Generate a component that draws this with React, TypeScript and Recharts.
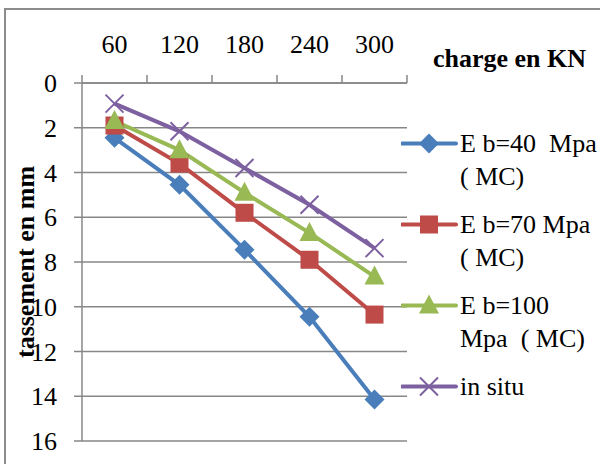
import React from 'react';
import { LineChart, Line, XAxis, YAxis, CartesianGrid, Legend, Label } from 'recharts';

const charges = [60, 120, 180, 240, 300];
const eb40 = [2.45, 4.55, 7.45, 10.45, 14.15];
const eb70 = [1.9, 3.6, 5.8, 7.9, 10.35];
const eb100 = [1.7, 3.0, 4.9, 6.7, 8.65];
const inSitu = [0.92, 2.16, 3.8, 5.44, 7.38];

const xBoundaries = [30, 90, 150, 210, 270, 330];
const xTicks = [30, 60, 90, 120, 150, 180, 210, 240, 270, 300, 330];
const yTicks = [0, 2, 4, 6, 8, 10, 12, 14, 16];

const seriesKeys = ['eb40', 'eb70', 'eb100', 'inSitu'];

const seriesNames = {
  eb40: 'E b=40  Mpa\n( MC)',
  eb70: 'E b=70 Mpa\n( MC)',
  eb100: 'E b=100\nMpa  ( MC)',
  inSitu: 'in situ',
};

const colors = {
  eb40: '#4A7EBB',
  eb70: '#BE4B48',
  eb100: '#98B954',
  inSitu: '#7D60A0',
};

const shapes = {
  eb40: 'diamond',
  eb70: 'square',
  eb100: 'triangle',
  inSitu: 'cross',
};

const data = charges.map((c, i) => ({
  charge: c,
  eb40: eb40[i],
  eb70: eb70[i],
  eb100: eb100[i],
  inSitu: inSitu[i],
}));

const FONT = "'Liberation Serif', 'Times New Roman', serif";
const GRID = '#878787';

function Marker({ kind, cx, cy, color }: { kind: string; cx: number; cy: number; color: string }) {
  if (kind === 'diamond') {
    const r = 10;
    return <polygon points={`${cx},${cy - r} ${cx + r},${cy} ${cx},${cy + r} ${cx - r},${cy}`} fill={color} />;
  }
  if (kind === 'square') {
    const s = 9;
    return <rect x={cx - s} y={cy - s} width={2 * s} height={2 * s} fill={color} />;
  }
  if (kind === 'triangle') {
    return <polygon points={`${cx},${cy - 11} ${cx + 10},${cy + 8} ${cx - 10},${cy + 8}`} fill={color} />;
  }
  const a = 9;
  return (
    <g stroke={color} strokeWidth={2}>
      <line x1={cx - a} y1={cy - a} x2={cx + a} y2={cy + a} />
      <line x1={cx - a} y1={cy + a} x2={cx + a} y2={cy - a} />
    </g>
  );
}

const makeDot = (key: string) => (props: any) => {
  const { cx, cy, index } = props;
  if (cx == null || cy == null) return <g key={`d-${key}-${index}`} />;
  return (
    <g key={`d-${key}-${index}`}>
      <Marker kind={shapes[key]} cx={cx} cy={cy} color={colors[key]} />
    </g>
  );
};

const XTick = (props: any) => {
  const { x, y, payload } = props;
  const v = payload.value;
  if (xBoundaries.includes(v)) {
    return <line x1={x} y1={y} x2={x} y2={y + 8} stroke={GRID} strokeWidth={1.5} />;
  }
  return (
    <text x={x} y={y - 22} textAnchor="middle" style={{ fontFamily: FONT }} fontSize={26} fill="#000">
      {v}
    </text>
  );
};

const YTick = (props: any) => {
  const { x, y, payload } = props;
  return (
    <text x={x} y={y + 9} textAnchor="end" style={{ fontFamily: FONT }} fontSize={26} fill="#000">
      {payload.value}
    </text>
  );
};

const LegendContent = (props: any) => {
  const { payload } = props;
  const items = seriesKeys
    .map((k) => (payload || []).find((e: any) => e.dataKey === k))
    .filter(Boolean);
  return (
    <div style={{ fontFamily: FONT, fontSize: 26, lineHeight: '33px', color: '#000' }}>
      {items.map((e: any) => {
        const key = e.dataKey as string;
        return (
          <div key={key} style={{ display: 'flex', alignItems: 'flex-start', marginBottom: 15 }}>
            <svg width={59} height={33} style={{ flex: 'none' }}>
              <line x1={1} y1={16.5} x2={55} y2={16.5} stroke={colors[key]} strokeWidth={4} strokeLinecap="round" />
              <Marker kind={shapes[key]} cx={28} cy={16.5} color={colors[key]} />
            </svg>
            <div style={{ whiteSpace: 'pre' }}>{e.value}</div>
          </div>
        );
      })}
    </div>
  );
};

export default function App() {
  return (
    <div style={{ position: 'absolute', left: 0, top: 0, width: 600, height: 464, overflow: 'hidden', background: '#fff' }}>
      <div
        style={{
          position: 'absolute',
          left: 4,
          top: 8,
          width: 700,
          height: 600,
          border: '2px solid #8c8c8c',
          boxSizing: 'border-box',
        }}
      />
      <div style={{ position: 'absolute', left: 0, top: 0 }}>
        <LineChart width={600} height={464} data={data} margin={{ top: 0, right: 193, bottom: 23, left: 0 }}>
          <CartesianGrid vertical={false} stroke={GRID} strokeWidth={1.5} />
          <XAxis
            dataKey="charge"
            type="number"
            orientation="top"
            domain={[30, 330]}
            ticks={xTicks}
            interval={0}
            height={83}
            tickSize={8}
            tickMargin={0}
            tickLine={false}
            axisLine={{ stroke: GRID, strokeWidth: 1.5 }}
            tick={<XTick />}
          >
            <Label
              content={() => (
                <text x={433} y={67} style={{ fontFamily: FONT }} fontSize={26} fontWeight="bold" fill="#000">
                  charge en KN
                </text>
              )}
            />
          </XAxis>
          <YAxis
            type="number"
            reversed
            domain={[0, 16]}
            ticks={yTicks}
            interval={0}
            width={82}
            tickSize={8}
            tickMargin={17}
            tickLine={{ stroke: GRID, strokeWidth: 1.5 }}
            axisLine={{ stroke: GRID, strokeWidth: 1.5 }}
            tick={<YTick />}
          >
            <Label
              content={(p: any) => {
                const vb = p.viewBox || { x: 0, y: 83, width: 82, height: 358 };
                const cx = vb.x + 34;
                const cy = vb.y + vb.height / 2;
                return (
                  <text
                    x={cx}
                    y={cy}
                    transform={`rotate(-90, ${cx}, ${cy})`}
                    textAnchor="middle"
                    style={{ fontFamily: FONT }}
                    fontSize={26}
                    fontWeight="bold"
                    fill="#000"
                  >
                    tassement en mm
                  </text>
                );
              }}
            />
          </YAxis>
          <Legend
            layout="vertical"
            align="center"
            verticalAlign="middle"
            wrapperStyle={{ left: 401, top: 127, width: 199 }}
            content={<LegendContent />}
          />
          {seriesKeys.map((k) => (
            <Line
              key={k}
              type="linear"
              dataKey={k}
              name={seriesNames[k]}
              stroke={colors[k]}
              strokeWidth={4}
              dot={makeDot(k)}
              activeDot={false}
              isAnimationActive={false}
            />
          ))}
        </LineChart>
      </div>
    </div>
  );
}
